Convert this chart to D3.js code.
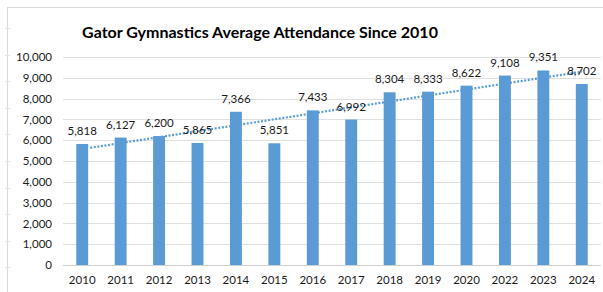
<!DOCTYPE html>
<html>
<head>
<meta charset="utf-8">
<script src="https://cdn.jsdelivr.net/npm/d3@7"></script>
<style>
    body { margin: 0; background: #fff; }
    svg { display: block; font-family: Lato, "Open Sans", sans-serif; }
</style>
</head>
<body>
<svg id="chart" width="603" height="292"></svg>
<script>
const years = ['2010', '2011', '2012', '2013', '2014', '2015', '2016', '2017', '2018', '2019', '2020', '2022', '2023', '2024'];
const attendance = [5818, 6127, 6200, 5865, 7366, 5851, 7433, 6992, 8304, 8333, 8622, 9108, 9351, 8702];
const yTicks = [0, 1000, 2000, 3000, 4000, 5000, 6000, 7000, 8000, 9000, 10000];
const title = 'Gator Gymnastics Average Attendance Since 2010';

const svg = d3.select('#chart');
const blue = '#5b9bd5';

// frame lines round the chart (sheet edge)
svg.append('line').attr('x1', 7).attr('x2', 603).attr('y1', 7.5).attr('y2', 7.5).attr('stroke', '#d9d9d9');
svg.append('line').attr('x1', 7.5).attr('x2', 7.5).attr('y1', 7).attr('y2', 292).attr('stroke', '#d9d9d9');
d3.range(28, 292, 26.6).forEach(y => {
    svg.append('line').attr('x1', 5).attr('x2', 10).attr('y1', Math.round(y) + .5).attr('y2', Math.round(y) + .5).attr('stroke', '#e4e4e4');
});

const x = d3.scaleBand().domain(years).range([63, 601]).paddingInner(.69).paddingOuter(.345);
const y = d3.scaleLinear().domain([0, 10000]).range([265, 57]);

svg.append('text').attr('x', 260).attr('y', 38).attr('text-anchor', 'middle')
    .attr('font-size', 16).attr('font-weight', 'bold').attr('fill', '#000').text(title);

// grid
svg.append('g').selectAll('line').data(yTicks).join('line')
    .attr('x1', 63).attr('x2', 601)
    .attr('y1', d => Math.round(y(d)) + .5).attr('y2', d => Math.round(y(d)) + .5)
    .attr('stroke', d => d === 0 ? '#d0d0d0' : '#e0e0e0');

const yAxis = svg.append('g').attr('transform', 'translate(52,0)')
    .call(d3.axisLeft(y).tickValues(yTicks).tickSize(0).tickPadding(0).tickFormat(d3.format(',')));
yAxis.select('.domain').remove();
yAxis.selectAll('text').attr('font-size', 11.5).attr('fill', '#1a1a1a').attr('font-family', 'Lato, "Open Sans", sans-serif');

const xAxis = svg.append('g').attr('transform', 'translate(0,276)')
    .call(d3.axisBottom(x).tickSize(0).tickPadding(0));
xAxis.select('.domain').remove();
xAxis.selectAll('text').attr('font-size', 11.5).attr('fill', '#1a1a1a').attr('font-family', 'Lato, "Open Sans", sans-serif');

// bars
svg.append('g').selectAll('rect').data(attendance).join('rect')
    .attr('x', (d, i) => x(years[i])).attr('width', x.bandwidth())
    .attr('y', d => y(d)).attr('height', d => y(0) - y(d))
    .attr('fill', blue);

// linear trendline across category index
const n = attendance.length;
const mx = d3.mean(d3.range(n));
const my = d3.mean(attendance);
const slope = d3.sum(attendance, (v, i) => (i - mx) * (v - my)) / d3.sum(d3.range(n), i => (i - mx) ** 2);
const trend = i => my + slope * (i - mx);
const mid = i => x(years[i]) + x.bandwidth() / 2;
svg.append('line')
    .attr('x1', mid(0) + 8).attr('y1', y(trend(0 + 8 / x.step())))
    .attr('x2', mid(n - 1)).attr('y2', y(trend(n - 1)))
    .attr('stroke', blue).attr('stroke-width', 2.2).attr('stroke-dasharray', '2,1.6');

// value labels
svg.append('g').selectAll('text').data(attendance).join('text')
    .attr('x', (d, i) => mid(i)).attr('y', d => y(d) - 9)
    .attr('text-anchor', 'middle').attr('font-size', 11.5).attr('fill', '#1a1a1a')
    .text(d => d3.format(',')(d));
</script>
</body>
</html>
